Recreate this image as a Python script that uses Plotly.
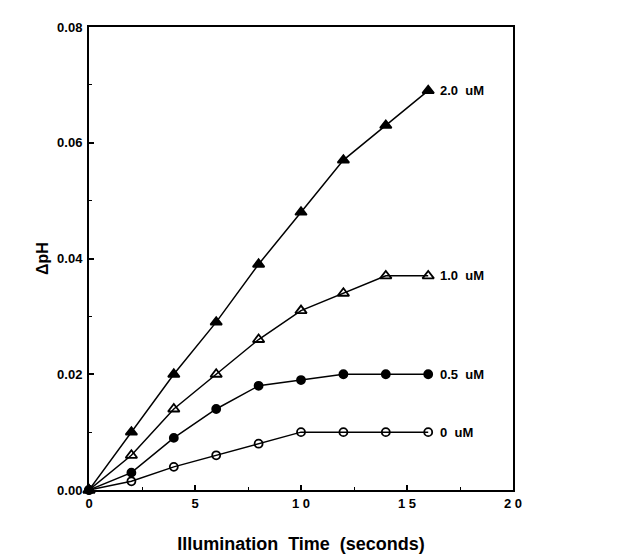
import plotly.graph_objects as go

time_s = [0, 2, 4, 6, 8, 10, 12, 14, 16]
dph_0 = [0, 0.0015, 0.004, 0.006, 0.008, 0.010, 0.010, 0.010, 0.010]
dph_05 = [0, 0.003, 0.009, 0.014, 0.018, 0.019, 0.020, 0.020, 0.020]
dph_10 = [0, 0.006, 0.014, 0.020, 0.026, 0.031, 0.034, 0.037, 0.037]
dph_20 = [0, 0.010, 0.020, 0.029, 0.039, 0.048, 0.057, 0.063, 0.069]
series = [
    ("0 uM", dph_0, "circle-open", 8),
    ("0.5 uM", dph_05, "circle", 8),
    ("1.0 uM", dph_10, "triangle-up-open", 10),
    ("2.0 uM", dph_20, "triangle-up", 10),
]
FONT = "Liberation Sans"

fig = go.Figure()
for name, vals, sym, sz in series:
    fig.add_trace(go.Scatter(
        x=time_s, y=vals, mode="lines+markers", name=name,
        line=dict(color="black", width=1.5),
        marker=dict(symbol=sym, size=sz, color="black", line=dict(color="black", width=1.8)),
        cliponaxis=False,
    ))
    fig.add_annotation(x=time_s[-1], y=vals[-1], text="<b>" + name.replace(" ", "  ") + "</b>",
                       xanchor="left", xshift=10, showarrow=False,
                       font=dict(size=13, color="black", family=FONT))

axis = dict(showline=True, linecolor="black", linewidth=2, mirror=True, showgrid=False,
            zeroline=False, ticks="inside", ticklen=5, tickwidth=1.5, tickcolor="black",
            tickfont=dict(size=13, color="black", family=FONT),
            minor=dict(ticks="inside", ticklen=3, tickwidth=1, tickcolor="black"))
fig.update_xaxes(axis, range=[0, 20], tickvals=[0, 5, 10, 15, 20],
                 ticktext=["<b>0</b>", "<b>5</b>", "<b>1 0</b>", "<b>1 5</b>", "<b>2 0</b>"],
                 minor_dtick=2.5,
                 title=dict(text="<b>Illumination  Time  (seconds)</b>", standoff=28,
                            font=dict(size=18, color="black", family=FONT)))
fig.update_yaxes(axis, range=[0, 0.08], tickvals=[0, 0.02, 0.04, 0.06, 0.08],
                 ticktext=["<b>0.00</b>", "<b>0.02</b>", "<b>0.04</b>", "<b>0.06</b>", "<b>0.08</b>"],
                 minor_dtick=0.01, ticklabelstandoff=2,
                 title=dict(text="<b>ΔpH</b>", standoff=4,
                            font=dict(size=16, color="black", family=FONT)))
fig.update_layout(width=622, height=555, showlegend=False, plot_bgcolor="white",
                  paper_bgcolor="white", margin=dict(l=81, r=117, t=12, b=73))
fig.write_html("out.html")
